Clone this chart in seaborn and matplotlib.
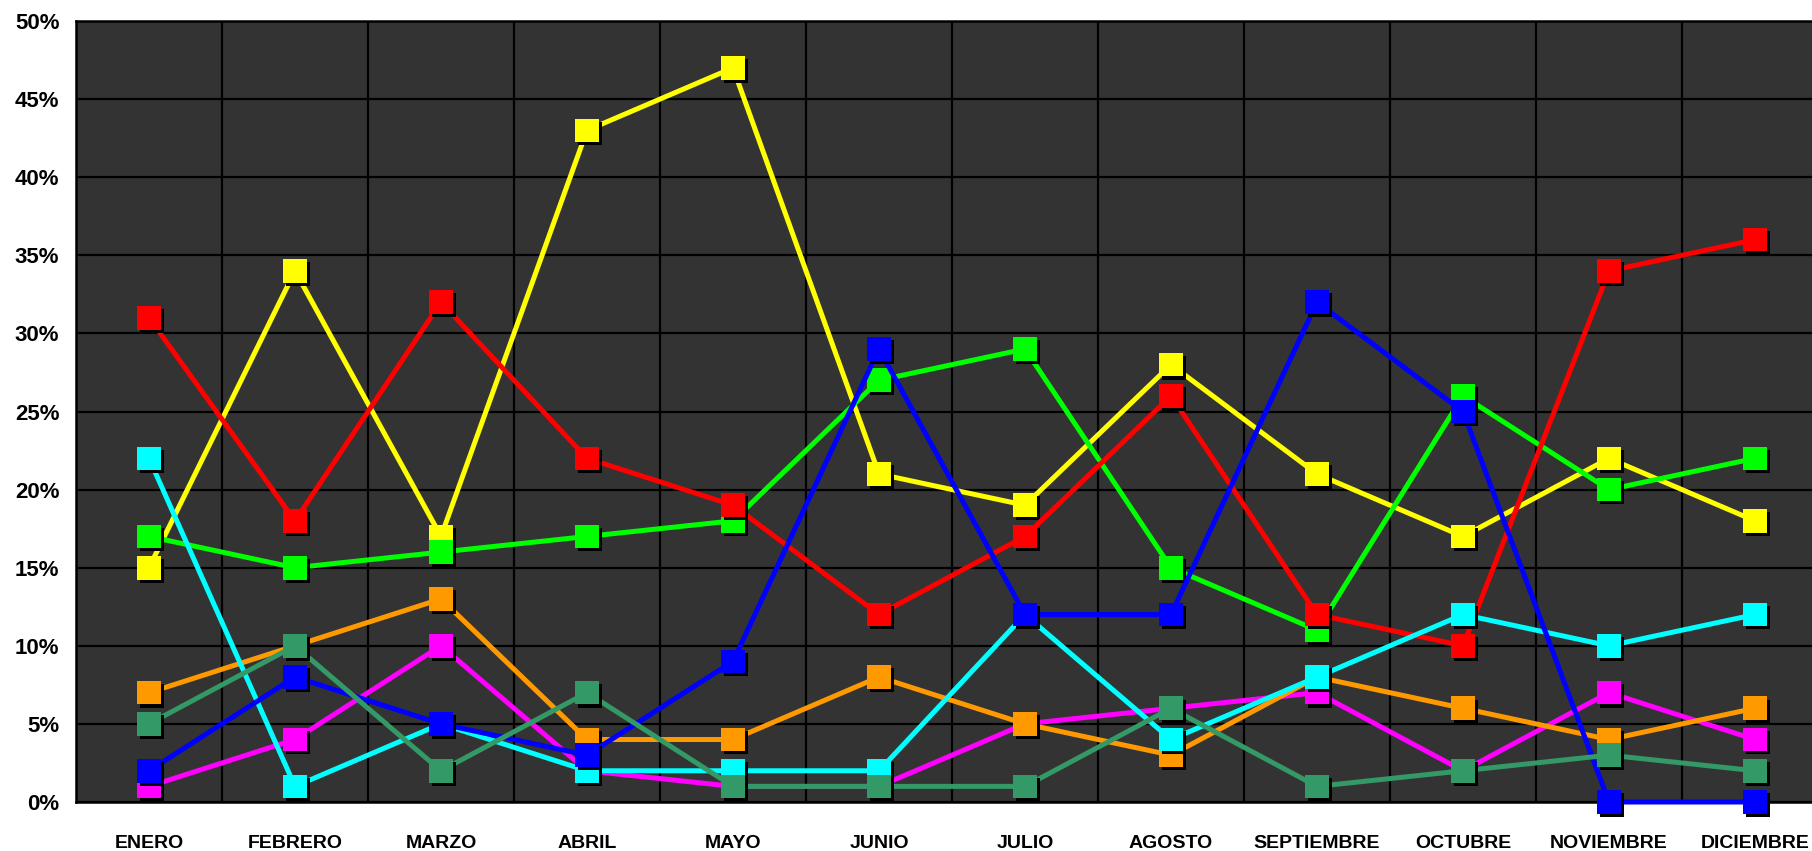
import numpy as np
import pandas as pd
import matplotlib
matplotlib.use("Agg")
import matplotlib.pyplot as plt
import matplotlib.patheffects as pe
from matplotlib.ticker import FixedLocator, FuncFormatter
import seaborn as sns

months = ["ENERO", "FEBRERO", "MARZO", "ABRIL", "MAYO", "JUNIO", "JULIO",
          "AGOSTO", "SEPTIEMBRE", "OCTUBRE", "NOVIEMBRE", "DICIEMBRE"]

magenta = [1, 4, 10, 2, 1, 1, 5, 6, 7, 2, 7, 4]
orange = [7, 10, 13, 4, 4, 8, 5, 3, 8, 6, 4, 6]
yellow = [15, 34, 17, 43, 47, 21, 19, 28, 21, 17, 22, 18]
green = [17, 15, 16, 17, 18, 27, 29, 15, 11, 26, 20, 22]
red = [31, 18, 32, 22, 19, 12, 17, 26, 12, 10, 34, 36]
cyan = [22, 1, 5, 2, 2, 2, 12, 4, 8, 12, 10, 12]
blue = [2, 8, 5, 3, 9, 29, 12, 12, 32, 25, 0, 0]
seagreen = [5, 10, 2, 7, 1, 1, 1, 6, 1, 2, 3, 2]

series = [
    ("magenta", magenta, "#FF00FF"),
    ("orange", orange, "#FF9900"),
    ("yellow", yellow, "#FFFF00"),
    ("green", green, "#00FF00"),
    ("red", red, "#FF0000"),
    ("cyan", cyan, "#00FFFF"),
    ("blue", blue, "#0000FF"),
    ("seagreen", seagreen, "#339966"),
]

sns.set_theme(style="white")
plt.rcParams["font.family"] = ["Liberation Sans", "DejaVu Sans"]

W, H = 1812, 851
fig = plt.figure(figsize=(W / 100, H / 100), dpi=100)
left, right, top, bottom = 76, 1828, 21, 802
ax = fig.add_axes([left / W, 1 - bottom / H, (right - left) / W, (bottom - top) / H])
ax.set_facecolor("#333333")

x = np.arange(len(months))
shadow = [pe.SimplePatchShadow(offset=(2.2, -2.2), shadow_rgbFace="black", alpha=1.0), pe.Normal()]

z = 3
for name, vals, col in series:
    df = pd.DataFrame({"x": x, "y": vals})
    sns.lineplot(data=df, x="x", y="y", ax=ax, color=col, linewidth=3.6,
                 zorder=z, legend=False, clip_on=False)
    sns.lineplot(data=df, x="x", y="y", ax=ax, color=col, linestyle="",
                 marker="s", markersize=17, markeredgewidth=0, clip_on=False,
                 zorder=z + 1, legend=False, path_effects=shadow)
    z += 2

ax.set_xlim(-0.5, len(months) - 0.5)
ax.set_ylim(0, 50)
ax.set_xlabel("")
ax.set_ylabel("")

ax.set_xticks(x)
ax.set_xticklabels(months)
ax.xaxis.set_minor_locator(FixedLocator(np.arange(0.5, len(months) - 0.5, 1)))
ax.set_yticks(np.arange(0, 51, 5))
ax.yaxis.set_major_formatter(FuncFormatter(lambda v, p: f"{int(v)}%"))

ax.grid(False)
ax.grid(True, which="major", axis="y", color="black", linewidth=1.6, zorder=1)
ax.grid(True, which="minor", axis="x", color="black", linewidth=1.6, zorder=1)
ax.set_axisbelow(True)

ax.tick_params(axis="both", which="both", length=0)
ax.tick_params(axis="y", pad=12)
ax.tick_params(axis="x", pad=24)
for lab in ax.get_yticklabels():
    lab.set_fontsize(16)
    lab.set_fontweight("bold")
    lab.set_color("black")
for lab in ax.get_xticklabels():
    lab.set_fontsize(14)
    lab.set_fontweight("bold")
    lab.set_color("black")

for s in ["left", "top", "bottom"]:
    ax.spines[s].set_visible(True)
    ax.spines[s].set_color("black")
    ax.spines[s].set_linewidth(1.8)
    ax.spines[s].set_zorder(2)
ax.spines["right"].set_visible(False)

fig.savefig("out.png", dpi=100, facecolor="white")
